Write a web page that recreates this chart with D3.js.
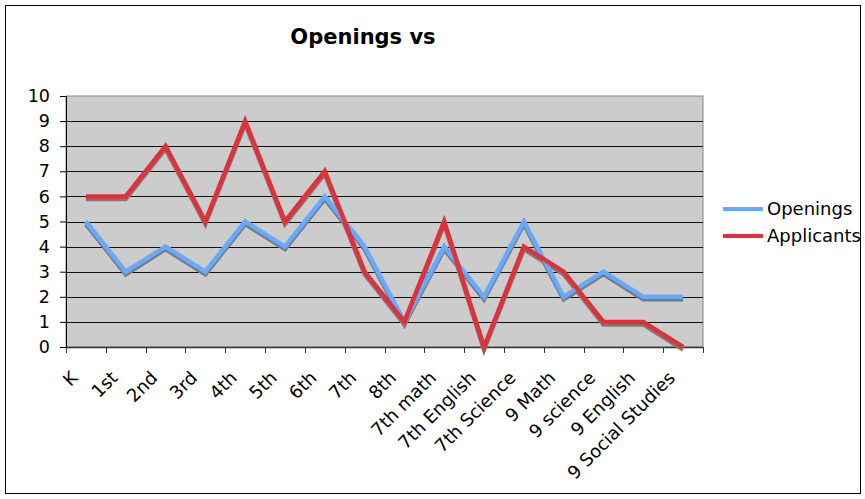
<!DOCTYPE html>
<html>
<head>
<meta charset="utf-8">
<script src="https://cdn.jsdelivr.net/npm/d3@7"></script>
<style>
  body { margin: 0; background: #fff; }
  text { font-family: "DejaVu Sans", Verdana, sans-serif; }
</style>
</head>
<body>
<svg id="chart"></svg>
<script>
var categories = ["K", "1st", "2nd", "3rd", "4th", "5th", "6th", "7th", "8th",
  "7th math", "7th English", "7th Science", "9 Math", "9 science", "9 English", "9 Social Studies"];
var openings = [5, 3, 4, 3, 5, 4, 6, 4, 1, 4, 2, 5, 2, 3, 2, 2];
var applicants = [6, 6, 8, 5, 9, 5, 7, 3, 1, 5, 0, 4, 3, 1, 1, 0];
var yTicks = [0, 1, 2, 3, 4, 5, 6, 7, 8, 9, 10];

var width = 865, height = 499;
var plot = { left: 66, top: 96, right: 703, bottom: 347 };

var svg = d3.select("#chart")
  .attr("width", width)
  .attr("height", height);

// outer frame
svg.append("rect")
  .attr("x", 5.5).attr("y", 5.5)
  .attr("width", 855).attr("height", 488)
  .attr("fill", "#fff")
  .attr("stroke", "#000")
  .attr("stroke-width", 1);

svg.append("text")
  .attr("x", 363)
  .attr("y", 44)
  .attr("text-anchor", "middle")
  .attr("font-size", "21px")
  .attr("font-weight", "bold")
  .text("Openings vs");

var x = d3.scaleBand()
  .domain(categories)
  .range([plot.left, plot.right]);

var y = d3.scaleLinear()
  .domain([0, 10])
  .range([plot.bottom, plot.top]);

// plot background
svg.append("rect")
  .attr("x", plot.left).attr("y", plot.top)
  .attr("width", plot.right - plot.left)
  .attr("height", plot.bottom - plot.top)
  .attr("fill", "#cccccc")
  .attr("stroke", "#888")
  .attr("stroke-width", 1);

// gridlines
svg.append("g")
  .selectAll("line")
  .data(yTicks.slice(1, -1))
  .enter()
  .append("line")
    .attr("x1", plot.left).attr("x2", plot.right)
    .attr("y1", d => Math.round(y(d)) + 0.5)
    .attr("y2", d => Math.round(y(d)) + 0.5)
    .attr("stroke", "#111")
    .attr("stroke-width", 1);

// y axis
var yAxis = svg.append("g")
  .attr("transform", "translate(" + plot.left + ",0)")
  .call(d3.axisLeft(y).tickValues(yTicks).tickSize(6).tickPadding(10));
yAxis.select(".domain").attr("stroke", "#000");
yAxis.selectAll("text").attr("font-size", "17.5px").attr("fill", "#000")
  .attr("font-family", "DejaVu Sans, Verdana, sans-serif");

// x axis: ticks on band boundaries
var bounds = categories.map(c => x(c)).concat([plot.right]);
svg.append("line")
  .attr("x1", plot.left).attr("x2", plot.right)
  .attr("y1", plot.bottom + 0.5).attr("y2", plot.bottom + 0.5)
  .attr("stroke", "#333").attr("stroke-width", 1.5);
svg.append("g")
  .selectAll("line")
  .data(bounds)
  .enter()
  .append("line")
    .attr("x1", d => Math.round(d) + 0.5).attr("x2", d => Math.round(d) + 0.5)
    .attr("y1", plot.bottom).attr("y2", plot.bottom + 6)
    .attr("stroke", "#333");

svg.append("g")
  .selectAll("text")
  .data(categories)
  .enter()
  .append("text")
    .attr("transform", d => "translate(" + (x(d) + x.bandwidth() / 2 - 7) + "," + (plot.bottom + 32) + ") rotate(-45)")
    .attr("text-anchor", "end")
    .attr("font-size", "18px")
    .text(d => d);

// lines with shadow
var line = d3.line()
  .x((d, i) => x(categories[i]) + x.bandwidth() / 2)
  .y(d => y(d));

var series = [
  { name: "Openings", values: openings, color: "#66aaff" },
  { name: "Applicants", values: applicants, color: "#e0303a" }
];

series.forEach(function(s) {
  svg.append("path")
    .attr("d", line(s.values))
    .attr("transform", "translate(0,2.5)")
    .attr("fill", "none")
    .attr("stroke", "#7a7a7a")
    .attr("stroke-width", 4.5)
    .attr("stroke-linejoin", "miter");
});
series.forEach(function(s) {
  svg.append("path")
    .attr("d", line(s.values))
    .attr("fill", "none")
    .attr("stroke", s.color)
    .attr("stroke-width", 4.5)
    .attr("stroke-linejoin", "miter");
});

// legend
var legend = svg.append("g");
legend.selectAll("line")
  .data(series)
  .enter()
  .append("line")
    .attr("x1", 723).attr("x2", 763)
    .attr("y1", (d, i) => 209 + i * 27)
    .attr("y2", (d, i) => 209 + i * 27)
    .attr("stroke", d => d.color)
    .attr("stroke-width", 4);
legend.selectAll("text")
  .data(series)
  .enter()
  .append("text")
    .attr("x", 767)
    .attr("y", (d, i) => 209 + i * 27)
    .attr("dy", "0.35em")
    .attr("font-size", "18px")
    .text(d => d.name);
</script>
</body>
</html>
